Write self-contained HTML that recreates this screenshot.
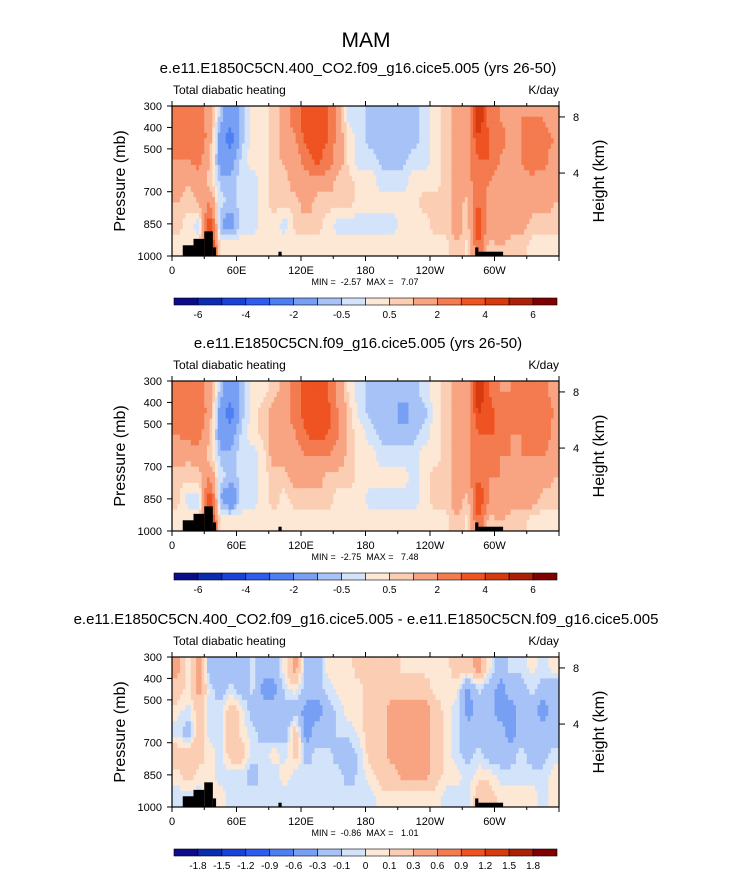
<!DOCTYPE html>
<html><head><meta charset="utf-8"><style>
body{margin:0;background:#fff;}
svg text{font-family:"Liberation Sans",sans-serif;fill:#000;white-space:pre;}
</style></head><body>
<svg id="fig" width="733" height="872" xmlns="http://www.w3.org/2000/svg">
<text x="366" y="47" font-size="21" text-anchor="middle">MAM</text>
</svg>
<script>
// ---- data ----
const lonCenters = [5,15,25,35,45,55,65,75,85,95,105,115,125,135,145,155,165,175,185,195,205,215,225,235,245,255,265,275,285,295,305,315,325,335,345,355];
const presRows = [350,450,550,650,750,850,950];
const xTickLabels = ["0","60E","120E","180","120W","60W"];
const pTicks = [300,400,500,700,850,1000];
const hTicks = [4,8];
const hTickPressures = [613,351];
const levelsAbs = [-6,-5,-4,-3,-2,-1,-0.5,0,0.5,1,2,3,4,5,6];
const levelLabelsAbs = ["-6","-4","-2","-0.5","0.5","2","4","6"];
const levelsDiff = [-1.8,-1.5,-1.2,-0.9,-0.6,-0.3,-0.1,0,0.1,0.3,0.6,0.9,1.2,1.5,1.8];
const levelLabelsDiff = ["-1.8","-1.5","-1.2","-0.9","-0.6","-0.3","-0.1","0","0.1","0.3","0.6","0.9","1.2","1.5","1.8"];
const topo = [[10,20,950],[20,30,920],[30,38,885],[38,41,960],[99,102,980],[282,285,960],[285,308,980]];
const heat1 = [
[2.5,2.5,2,1.5,1,0.7,0.3],[3,2.5,2,1,0.7,0.3,0.3],[2.5,3,2.5,1.5,1,-0.3,0.3],[1.5,1.5,1,0.7,2,4,5],
[-0.7,-1.5,-1.5,-0.7,-0.3,-1,0.3],[-1.5,-2.5,-1.5,-0.7,-0.7,-1.5,0.3],[-0.7,-0.7,-0.3,-0.3,-0.3,-0.3,0.3],[0.3,0.3,0.3,-0.3,-0.3,-0.3,0.3],
[0.3,0.3,0.3,0.3,0.3,0.3,0.3],[0.7,0.7,0.7,0.7,0.7,0.3,0.3],[1.5,1.5,1.2,0.7,0.7,-0.3,0.3],[2.5,2,1.5,1.5,0.7,0.7,0.3],
[3.5,3.5,2.5,1.5,1.5,0.7,0.3],[3.5,3.5,3.5,1.5,0.7,0.7,0.3],[3,3,2.5,1.5,0.7,0.3,0.3],[1.5,1.5,1.5,0.7,0.7,-0.3,0.3],
[-0.3,0.3,0.3,0.7,0.7,-0.3,0.3],[-0.3,-0.3,-0.3,0.3,0.3,-0.3,0.3],[-0.7,-0.7,-0.3,0.3,0.3,-0.3,0.3],[-0.7,-0.7,-0.7,-0.3,0.3,-0.3,0.3],
[-0.7,-0.7,-0.7,-0.3,0.3,-0.3,0.3],[-0.7,-0.7,-0.7,-0.3,0.3,0.3,0.3],[-0.7,-0.7,-0.3,0.3,0.3,0.3,0.3],[-0.3,-0.3,-0.3,0.3,0.7,0.3,0.3],
[0.3,0.3,0.3,0.3,0.7,0.7,0.3],[0.7,0.7,0.7,0.7,0.7,0.7,0.3],[1.5,1.5,1.5,1.5,1.5,1.5,1],[1.5,1.5,1.5,1.5,0.7,0.7,0.3],
[5,4,3,3,3,4,3],[2.5,3,3,2,1.5,1.5,0.7],[2,2.5,2,1.5,1.5,2,1],[1.5,1.5,1.5,1.5,1.5,1.5,0.7],
[2,2,2,1.5,1.5,1.5,0.7],[2,2.5,3,1.5,1.5,0.7,0.3],[2,2.5,2.5,1.5,1.5,0.7,0.3],[1.5,2,1.5,1.5,1,0.7,0.3]];
const heat2 = [
[2.5,2.5,2,1.5,0.7,0.7,0.3],[3,3,2.5,1,0.7,-0.3,0.3],[2.5,3,2.5,1.5,0.7,-0.3,0.3],[1.5,1.5,1,0.7,2,4,5],
[-0.7,-1.5,-1.5,-0.7,-0.3,-1,0.3],[-1.5,-2.5,-1.5,-0.7,-0.7,-2,0.3],[-0.7,-0.7,-0.3,-0.3,-0.3,-0.3,0.3],[0.3,0.3,0.3,-0.3,-0.3,-0.3,0.3],
[0.3,0.7,0.7,0.3,0.3,0.3,0.3],[0.7,1.5,1.5,1.5,0.7,0.7,0.3],[1.5,1.5,1.5,1.5,0.7,0.3,0.3],[2.5,2.5,2,1.5,1.5,0.7,0.3],
[3.5,3.5,3,2,1.5,0.7,0.3],[3.5,4,3.5,2,1.5,0.7,0.3],[3,3.5,3,2,0.7,0.7,0.3],[1.5,2,2,1.5,0.7,0.3,0.3],
[0.3,0.7,0.7,0.7,0.7,0.3,0.3],[-0.3,-0.3,0.3,0.3,0.3,0.3,0.3],[-0.7,-0.7,-0.3,0.3,0.3,-0.3,0.3],[-0.7,-0.7,-0.7,-0.3,0.3,-0.3,0.3],
[-0.7,-0.7,-0.7,-0.3,0.3,-0.3,0.3],[-0.7,-1.5,-0.7,-0.3,0.3,-0.3,0.3],[-0.7,-0.7,-0.7,-0.3,-0.3,-0.3,0.3],[-0.3,-0.7,-0.3,0.3,0.3,0.3,0.3],
[0.3,0.3,0.3,0.3,0.7,0.7,0.3],[0.7,0.7,0.7,0.7,0.7,0.7,0.3],[1.5,1.5,1.5,1.5,1.5,1.5,1],[1.5,1.5,1.5,1.5,1.5,0.7,0.3],
[5,4,3,3,3,4,3],[3,3.5,3,2.5,2,2,0.7],[2,2.5,3,2,2,2,1],[2,2,2,2,2,1.5,0.7],
[2.5,2.5,2,2,2,1.5,0.7],[2.5,2.5,3,2,1.5,1.5,0.3],[2.5,3,3,2,1.5,0.7,0.3],[1.5,2,1.5,1.5,1,0.7,0.3]];
const heatDiff = [
[0.4,0.2,0.05,-0.05,0.2,0.05,-0.05],[0.05,0.05,-0.05,-0.2,0.2,0.2,-0.05],[0.4,0.4,0.2,0.2,0.2,0.05,-0.05],[-0.2,-0.05,-0.05,-0.05,0.05,0.05,0.05],
[-0.2,-0.2,-0.05,-0.05,-0.05,-0.05,0.05],[-0.2,-0.05,0.2,0.2,0.2,-0.05,-0.05],[-0.2,-0.2,0.05,0.05,0.2,-0.05,-0.05],[-0.05,-0.05,-0.2,-0.05,-0.05,-0.2,-0.05],
[-0.2,-0.4,-0.2,-0.2,-0.05,-0.05,-0.05],[-0.2,-0.4,-0.2,-0.2,0.05,-0.05,-0.05],[0.05,-0.05,-0.2,-0.2,-0.05,0.05,-0.05],[0.4,0.05,-0.2,0.2,0.2,-0.05,-0.05],
[-0.2,-0.2,-0.4,-0.4,-0.2,-0.05,-0.05],[-0.2,-0.2,-0.4,-0.2,-0.05,-0.05,-0.05],[0.05,-0.05,-0.2,-0.2,-0.05,-0.05,-0.05],[0.05,0.05,-0.05,-0.05,-0.2,-0.05,-0.05],
[0.05,0.05,0.05,-0.05,-0.2,-0.2,-0.05],[0.2,0.05,0.05,0.05,-0.05,-0.05,-0.05],[0.2,0.2,0.2,0.2,0.2,0.05,-0.05],[0.2,0.2,0.2,0.2,0.2,0.2,0.05],
[0.2,0.2,0.4,0.4,0.4,0.2,0.05],[0.05,0.2,0.4,0.4,0.4,0.4,0.05],[0.05,0.2,0.4,0.4,0.4,0.4,0.05],[0.05,0.2,0.4,0.4,0.4,0.4,0.05],
[0.05,0.05,0.2,0.2,0.2,0.2,0.05],[0.05,0.05,0.05,0.05,0.05,0.05,-0.05],[0.2,0.05,-0.05,-0.05,-0.05,0.05,-0.05],[0.2,-0.4,-0.4,-0.2,-0.2,-0.05,-0.05],
[0.4,-0.05,-0.2,-0.2,-0.05,0.05,0.2],[0.05,-0.2,-0.2,-0.2,-0.2,0.05,0.2],[-0.2,-0.4,-0.4,-0.2,-0.2,-0.05,0.05],[-0.05,-0.2,-0.4,-0.4,-0.2,-0.05,0.05],
[-0.05,-0.2,-0.2,-0.2,-0.05,-0.05,0.05],[0.05,-0.05,-0.2,-0.2,-0.2,-0.05,0.05],[-0.05,-0.2,-0.4,-0.2,-0.2,-0.05,-0.05],[0.05,-0.2,-0.2,-0.2,-0.05,0.05,0.05]];
const colors = ["#0c0c8a","#0b2bb0","#1842d8","#2e5cef","#4d7ff2","#77a0f4","#a7c2f6","#d3e4fa","#fde8d6","#fbcdb2","#f8a482","#f47b4f","#ef5322","#d73a0e","#ad2008","#7f0000"];

const NS="http://www.w3.org/2000/svg";
const svg=document.getElementById('fig');
function mk(tag,attrs,parent){const e=document.createElementNS(NS,tag);for(const k in attrs)e.setAttribute(k,attrs[k]);(parent||svg).appendChild(e);return e;}
function colorFor(v,levels){let i=0;while(i<levels.length&&v>levels[i])i++;return colors[i];}
// bilinear sample of grid at (lon, p) for smoother rendering
function sample(grid,lon,p){
  let fi=(lon-5)/10, fj=(p-350)/100;
  fi=Math.max(0,Math.min(lonCenters.length-1,fi)); fj=Math.max(0,Math.min(presRows.length-1,fj));
  const i0=Math.floor(fi),j0=Math.floor(fj),i1=Math.min(i0+1,lonCenters.length-1),j1=Math.min(j0+1,presRows.length-1);
  const a=fi-i0,b=fj-j0;
  return grid[i0][j0]*(1-a)*(1-b)+grid[i1][j0]*a*(1-b)+grid[i0][j1]*(1-a)*b+grid[i1][j1]*a*b;
}

const X0=172,X1=559,W=X1-X0,H=150;
const xScale=lon=>X0+lon/360*W;
function panel(top,title,titleX,grid,levels,labels,labelEvery,minmax,name){
  const yScale=p=>top+(p-300)/700*H;
  const g=mk('g',{},svg);
  
  
  const t=mk('text',{x:titleX,y:top-33,'font-size':15,'text-anchor':'middle'},g);t.textContent=title;
  
  const l=mk('text',{x:X0+1,y:top-12,'font-size':12},g);l.textContent="Total diabatic heating";
  
  const u=mk('text',{x:X1,y:top-12,'font-size':12,'text-anchor':'end'},g);u.textContent="K/day";
  
  const dl=2.5,dp=25;
  for(let lon=0;lon<360;lon+=dl){for(let p=300;p<1000;p+=dp){
    const v=sample(grid,lon+dl/2,p+dp/2);
    const x=xScale(lon),x2=xScale(lon+dl),y=yScale(p),y2=yScale(p+dp);
    const r=mk('rect',{x:x,y:y,width:x2-x+0.5,height:y2-y+0.5,fill:colorFor(v,levels)},g);
    
    
  }}
  topo.forEach(tp=>{const r=mk('rect',{x:xScale(tp[0]),y:yScale(tp[2]),width:xScale(tp[1])-xScale(tp[0]),height:yScale(1000)-yScale(tp[2]),fill:'#000'},g);
    });
  const f=mk('rect',{x:X0,y:top,width:W,height:H,fill:'none',stroke:'#000','stroke-width':1.2},g);
  
  for(let lon=0;lon<=360;lon+=30){const x=xScale(lon);const len=lon%60===0?5:3;
    mk('line',{x1:x,y1:top+H,x2:x,y2:top+H+len,stroke:'#000'},g);mk('line',{x1:x,y1:top,x2:x,y2:top-len,stroke:'#000'},g);}
  xTickLabels.forEach((s,i)=>{const tx=mk('text',{x:xScale(i*60),y:top+H+18,'font-size':11,'text-anchor':'middle'},g);tx.textContent=s;
    });
  pTicks.forEach(p=>{const y=yScale(p);mk('line',{x1:X0-5,y1:y,x2:X0,y2:y,stroke:'#000'},g);
    const tx=mk('text',{x:X0-10,y:y+4,'font-size':11,'text-anchor':'end'},g);tx.textContent=p;
    });
  hTicks.forEach((h,i)=>{const y=yScale(hTickPressures[i]);mk('line',{x1:X1,y1:y,x2:X1+6,y2:y,stroke:'#000'},g);
    const tx=mk('text',{x:X1+14,y:y+4,'font-size':11},g);tx.textContent=h;
    });
  const ya=mk('text',{x:0,y:0,'font-size':16,'text-anchor':'middle',transform:`translate(125,${top+H/2}) rotate(-90)`},g);ya.textContent="Pressure (mb)";
  
  const ha=mk('text',{x:0,y:0,'font-size':16,'text-anchor':'middle',transform:`translate(604,${top+H/2}) rotate(-90)`},g);ha.textContent="Height (km)";
  
  const mm=mk('text',{x:365,y:top+H+29,'font-size':9,'text-anchor':'middle'},g);mm.textContent=minmax;
  
  const cy=top+H+42,cx0=174,cx1=557,bw=(cx1-cx0)/colors.length;
  colors.forEach((c,i)=>{const r=mk('rect',{x:cx0+i*bw,y:cy,width:bw,height:7,fill:c,stroke:'#000','stroke-width':0.6},g);
    });
  labels.forEach((s,i)=>{const k=i*labelEvery;const tx=mk('text',{x:cx0+(k+1)*bw,y:cy+20,'font-size':10,'text-anchor':'middle'},g);tx.textContent=s;
    });
}
panel(106,"e.e11.E1850C5CN.400_CO2.f09_g16.cice5.005 (yrs 26-50)",358,heat1,levelsAbs,levelLabelsAbs,2,"MIN =  -2.57  MAX =   7.07","panel-400ppm");
panel(381,"e.e11.E1850C5CN.f09_g16.cice5.005 (yrs 26-50)",358,heat2,levelsAbs,levelLabelsAbs,2,"MIN =  -2.75  MAX =   7.48","panel-control");
panel(657,"e.e11.E1850C5CN.400_CO2.f09_g16.cice5.005 - e.e11.E1850C5CN.f09_g16.cice5.005",366,heatDiff,levelsDiff,levelLabelsDiff,1,"MIN =  -0.86  MAX =   1.01","panel-difference");
</script>
</body></html>
